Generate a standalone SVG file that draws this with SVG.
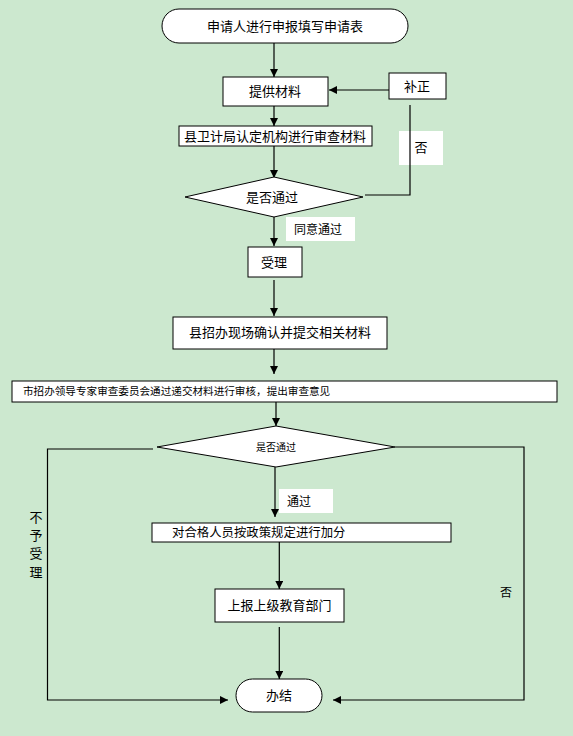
<svg xmlns="http://www.w3.org/2000/svg" width="573" height="736" viewBox="0 0 573 736">
<style>
.bx{fill:#fff;stroke:#000;stroke-width:1}
.lb{fill:#fff;stroke:none}
.ln{fill:none;stroke:#000;stroke-width:1.2}
text{font-family:"Noto Sans CJK SC","Liberation Sans",sans-serif;fill:#000;text-anchor:middle}
.t13{font-size:13px}
.t12{font-size:12px}
.t10{font-size:10px}
</style>
<defs>
<marker id="ah" viewBox="0 0 10 10" refX="10" refY="5" markerWidth="8" markerHeight="8" markerUnits="userSpaceOnUse" orient="auto">
<path d="M0,0 L10,5 L0,10 z" fill="#000"/>
</marker>
</defs>
<rect x="0" y="0" width="573" height="736" fill="#CCE8CF"/>
<g id="connectors">
<line class="ln" x1="274" y1="43" x2="274" y2="77" marker-end="url(#ah)"/>
<line class="ln" x1="389" y1="90" x2="329" y2="90" marker-end="url(#ah)"/>
<line class="ln" x1="274" y1="106" x2="274" y2="126" marker-end="url(#ah)"/>
<line class="ln" x1="274" y1="146" x2="274" y2="178" marker-end="url(#ah)"/>
<line class="ln" x1="274" y1="217" x2="274" y2="246" marker-end="url(#ah)"/>
<line class="ln" x1="274" y1="280" x2="274" y2="316" marker-end="url(#ah)"/>
<line class="ln" x1="274" y1="349" x2="274" y2="374" marker-end="url(#ah)"/>
<line class="ln" x1="276" y1="402" x2="276" y2="426" marker-end="url(#ah)"/>
<line class="ln" x1="275" y1="467" x2="275" y2="517" marker-end="url(#ah)"/>
<line class="ln" x1="279.3" y1="542" x2="279.3" y2="589" marker-end="url(#ah)"/>
<line class="ln" x1="279.3" y1="627" x2="279.3" y2="679" marker-end="url(#ah)"/>
<polyline class="ln" points="153,449 47.5,449 47.5,700 228,700" marker-end="url(#ah)"/>
<polyline class="ln" points="395,447 524,447 524,700 333,700" marker-end="url(#ah)"/>
</g>
<g id="start">
<rect class="bx" x="162" y="9" width="246" height="34" rx="17"/>
<text class="t13" x="285" y="31">申请人进行申报填写申请表</text>
</g>
<g id="provide">
<rect class="bx" x="223" y="77" width="105" height="29"/>
<text class="t13" x="275" y="96">提供材料</text>
</g>
<g id="correct">
<rect class="bx" x="389" y="73" width="57" height="26"/>
<text class="t13" x="417" y="91">补正</text>
</g>
<g id="label-no1">
<rect class="lb" x="399" y="131" width="44" height="34"/>
<polyline class="ln" points="410,105 410,195 365,195"/>
<text class="t13" x="421" y="152">否</text>
</g>
<g id="review1">
<rect class="bx" x="179" y="126" width="193" height="20"/>
<text class="t13" x="275" y="141">县卫计局认定机构进行审查材料</text>
</g>
<g id="decision1">
<polygon class="bx" points="185,197 274,177 363,197 274,217"/>
<text class="t13" x="272" y="202">是否通过</text>
</g>
<g id="label-agree">
<rect class="lb" x="286" y="217" width="69" height="24"/>
<text class="t12" x="318" y="234">同意通过</text>
</g>
<g id="accept">
<rect class="bx" x="248" y="247" width="54" height="30"/>
<text class="t13" x="274" y="267">受理</text>
</g>
<g id="confirm">
<rect class="bx" x="173" y="317" width="214" height="32"/>
<text class="t13" x="280" y="337">县招办现场确认并提交相关材料</text>
</g>
<g id="review2">
<rect class="bx" x="12" y="381" width="545" height="21"/>
<text class="t10" x="23" y="395" style="text-anchor:start;font-size:10.6px">市招办领导专家审查委员会通过递交材料进行审核，提出审查意见</text>
</g>
<g id="decision2">
<polygon class="bx" points="157,447 276,426 395,447 276,467"/>
<text class="t10" x="276" y="451">是否通过</text>
</g>
<g id="label-pass">
<rect class="lb" x="279" y="489" width="54" height="24"/>
<text class="t12" x="287" y="506" style="text-anchor:start">通过</text>
</g>
<g id="score">
<rect class="bx" x="152" y="523" width="299" height="19"/>
<text class="t12" x="172" y="537" style="text-anchor:start;font-size:12.4px">对合格人员按政策规定进行加分</text>
</g>
<g id="report">
<rect class="bx" x="215" y="589" width="129" height="33"/>
<text class="t13" x="279.5" y="610">上报上级教育部门</text>
</g>
<g id="end">
<rect class="bx" x="236" y="679" width="86" height="33" rx="16.5"/>
<text class="t13" x="279" y="700">办结</text>
</g>
<g id="label-reject">
<text class="t13" x="36" y="522">不</text>
<text class="t13" x="36" y="540">予</text>
<text class="t13" x="36" y="558">受</text>
<text class="t13" x="36" y="577">理</text>
</g>
<g id="label-no2">
<text class="t12" x="506" y="597">否</text>
</g>
</svg>
